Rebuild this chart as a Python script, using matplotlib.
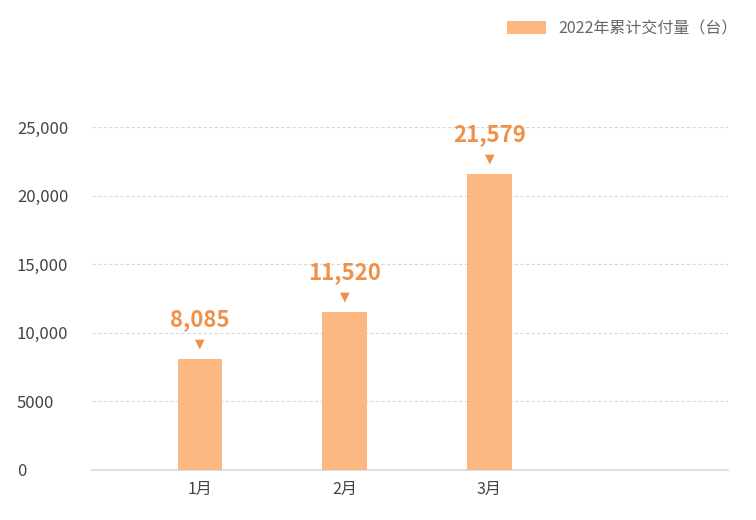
import matplotlib.pyplot as plt
import numpy as np

plt.rcParams['font.family'] = ['Noto Sans CJK SC', 'DejaVu Sans']

# data
months = ['1月', '2月', '3月']
deliveries = [8085, 11520, 21579]
y_ticks = [0, 5000, 10000, 15000, 20000, 25000]
y_tick_labels = ['0', '5000', '10,000', '15,000', '20,000', '25,000']
series_name = '2022年累计交付量（台）'

bar_color = '#FDB780'
label_color = '#F0914A'

fig = plt.figure(figsize=(7.56, 5.2), dpi=100)
ax = fig.add_axes([92 / 756, 50 / 520, 636 / 756, 343 / 520])

x = np.arange(len(months))
bars = ax.bar(x, deliveries, width=0.31, color=bar_color, zorder=3, label=series_name)

# value labels with small triangle pointer
for xi, v in zip(x, deliveries):
    ax.annotate('▼', (xi, v), xytext=(0, 11), textcoords='offset points',
                ha='center', va='center', fontsize=9, color=label_color,
                family=['DejaVu Sans'])
    ax.annotate(f'{v:,}', (xi, v), xytext=(0, 20), textcoords='offset points',
                ha='center', va='bottom', fontsize=16, fontweight='bold',
                color=label_color)

ax.set_xlim(-0.747, 3.65)
ax.set_ylim(0, 25000)
ax.set_xticks(x)
ax.set_xticklabels(months, fontsize=11.5, color='#444444')
ax.set_yticks(y_ticks)
ax.set_yticklabels(y_tick_labels, fontsize=12, color='#444444', ha='left')
ax.tick_params(axis='y', length=0, pad=54)
ax.tick_params(axis='x', length=0, pad=8)

ax.grid(axis='y', linestyle=(0, (3, 2)), color='#d9d9d9', linewidth=0.8, zorder=0)
for side in ['top', 'right', 'left']:
    ax.spines[side].set_visible(False)
ax.spines['bottom'].set_color('#d9d9d9')
ax.spines['bottom'].set_linewidth(1.2)

leg = fig.legend(loc='upper right', bbox_to_anchor=(0.995, 0.989), frameon=False,
                 fontsize=11.5, handlelength=2.5, handleheight=0.8, handletextpad=0.75)
for t in leg.get_texts():
    t.set_color('#666666')

fig.savefig('out.png', dpi=100)
